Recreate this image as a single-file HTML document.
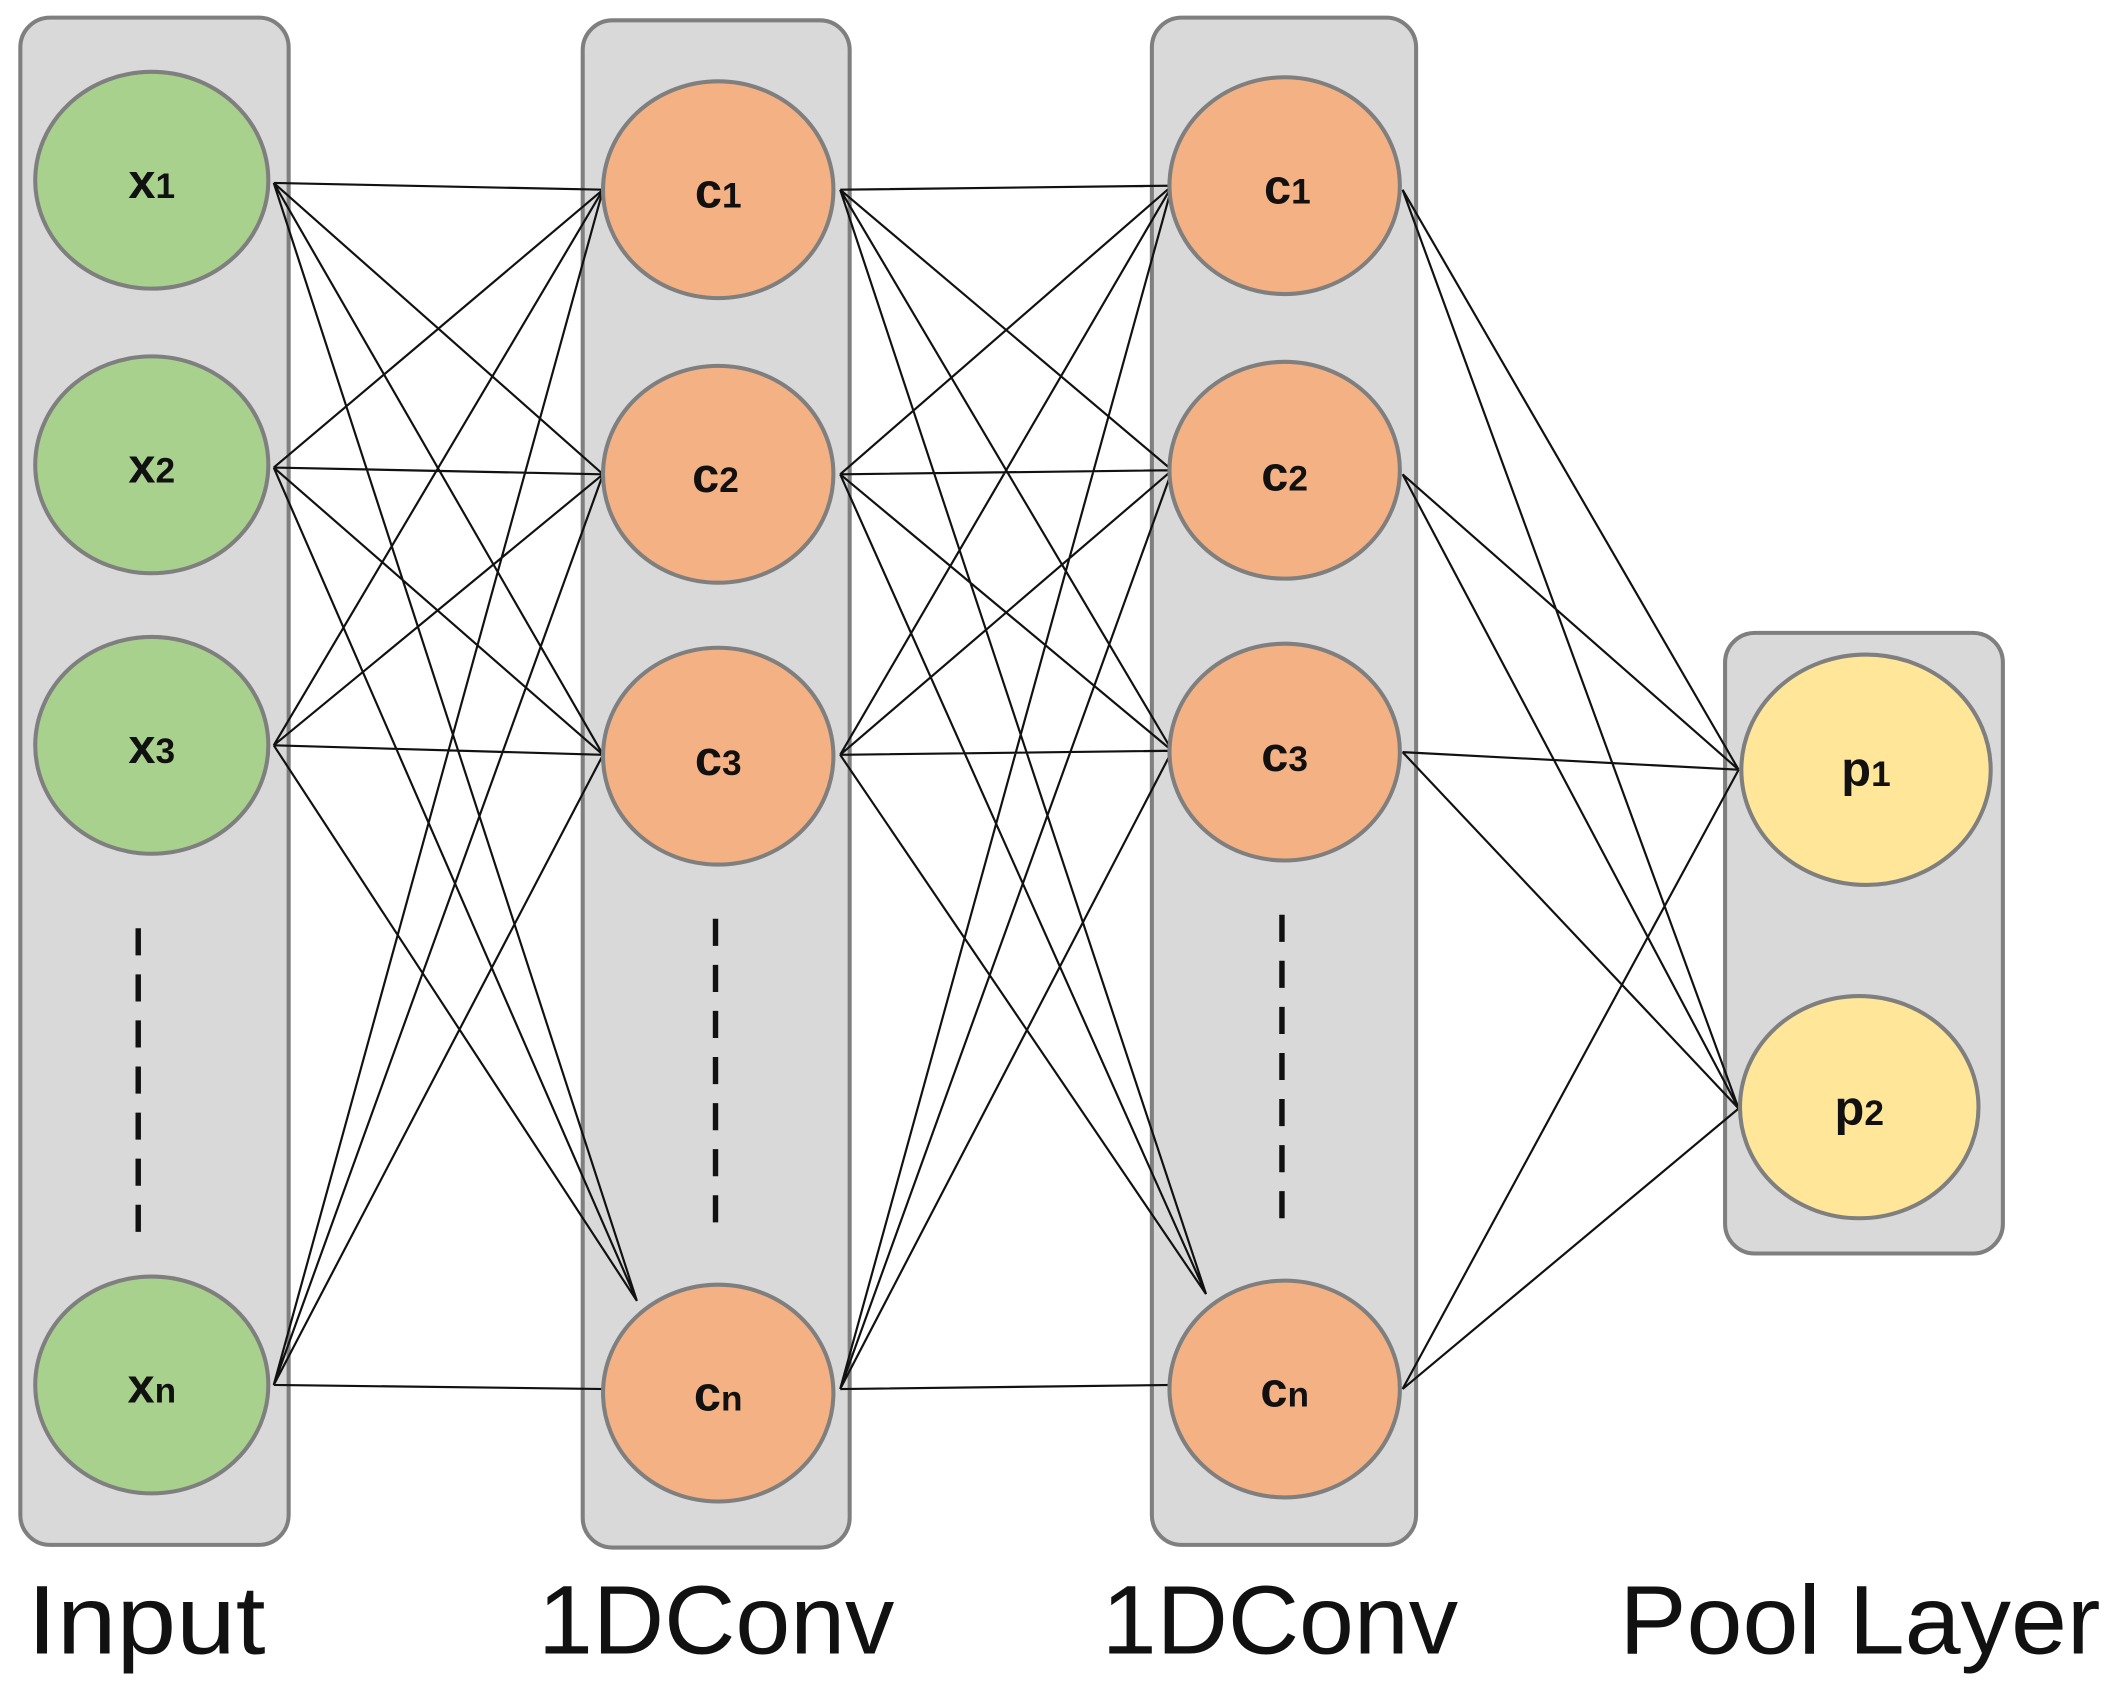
<!DOCTYPE html>
<html><head><style>html,body{margin:0;padding:0;background:#fff}svg{display:block}</style></head>
<body>
<svg width="2114" height="1690" viewBox="0 0 1560 1247.1" preserveAspectRatio="none" xmlns="http://www.w3.org/2000/svg">
<g fill="#d9d9d9" stroke="#7f7f7f" stroke-width="3">
<rect x="15" y="13" width="198" height="1127" rx="22"/>
<rect x="430" y="15" width="197" height="1127" rx="22"/>
<rect x="850" y="13" width="195" height="1127" rx="22"/>
<rect x="1273" y="467" width="205" height="458" rx="22"/>
</g>
<g stroke="#111" stroke-width="1.6" fill="none">
<path d="M202 135L445 140M202 135L445 350M202 135L445 557M202 135L470 960
M202 345L445 140M202 345L445 350M202 345L445 557M202 345L470 960
M202 550L445 140M202 550L445 350M202 550L445 557M202 550L470 960
M202 1022L445 140M202 1022L445 350M202 1022L445 557M202 1022L447 1025"/>
<path d="M620 140L865 137M620 140L865 347M620 140L865 554M620 140L890 955
M620 350L865 137M620 350L865 347M620 350L865 554M620 350L890 955
M620 557L865 137M620 557L865 347M620 557L865 554M620 557L890 955
M620 1025L865 137M620 1025L865 347M620 1025L865 554M620 1025L866 1022"/>
<path d="M1035 140L1283 568M1035 140L1283 818
M1035 350L1283 568M1035 350L1283 818
M1035 555L1283 568M1035 555L1283 818
M1035 1025L1283 568M1035 1025L1283 818"/>
</g>
<g stroke="#7f7f7f" stroke-width="3">
<g fill="#a9d18e">
<ellipse cx="112" cy="133" rx="86" ry="80"/>
<ellipse cx="112" cy="343" rx="86" ry="80"/>
<ellipse cx="112" cy="550" rx="86" ry="80"/>
<ellipse cx="112" cy="1022" rx="86" ry="80"/>
</g>
<g fill="#f4b183">
<ellipse cx="530" cy="140" rx="85" ry="80"/>
<ellipse cx="530" cy="350" rx="85" ry="80"/>
<ellipse cx="530" cy="558" rx="85" ry="80"/>
<ellipse cx="530" cy="1028" rx="85" ry="80"/>
<ellipse cx="948" cy="137" rx="85" ry="80"/>
<ellipse cx="948" cy="347" rx="85" ry="80"/>
<ellipse cx="948" cy="555" rx="85" ry="80"/>
<ellipse cx="948" cy="1025" rx="85" ry="80"/>
</g>
<g fill="#ffe699">
<ellipse cx="1377" cy="568" rx="92" ry="85"/>
<ellipse cx="1372" cy="817" rx="88" ry="82"/>
</g>
</g>
<g stroke="#111" stroke-width="4" stroke-dasharray="20,14">
<line x1="102" y1="685" x2="102" y2="919"/>
<line x1="528" y1="678" x2="528" y2="912"/>
<line x1="946" y1="675" x2="946" y2="909"/>
</g>
<g font-family="Liberation Sans, sans-serif" font-weight="bold" font-size="36" fill="#111" text-anchor="middle">
<text x="112" y="146">x<tspan font-size="26">1</tspan></text>
<text x="112" y="356">x<tspan font-size="26">2</tspan></text>
<text x="112" y="563">x<tspan font-size="26">3</tspan></text>
<text x="112" y="1035">x<tspan font-size="26">n</tspan></text>
<text x="530" y="153">c<tspan font-size="26">1</tspan></text>
<text x="528" y="363">c<tspan font-size="26">2</tspan></text>
<text x="530" y="572">c<tspan font-size="26">3</tspan></text>
<text x="530" y="1041">c<tspan font-size="26">n</tspan></text>
<text x="950" y="150">c<tspan font-size="26">1</tspan></text>
<text x="948" y="362">c<tspan font-size="26">2</tspan></text>
<text x="948" y="569">c<tspan font-size="26">3</tspan></text>
<text x="948" y="1038">c<tspan font-size="26">n</tspan></text>
<text x="1377" y="580">p<tspan font-size="26">1</tspan></text>
<text x="1372" y="830">p<tspan font-size="26">2</tspan></text>
</g>
<g font-family="Liberation Sans, sans-serif" font-size="72" fill="#111">
<text x="20" y="1220" textLength="176" lengthAdjust="spacingAndGlyphs">Input</text>
<text x="397" y="1220" textLength="263" lengthAdjust="spacingAndGlyphs">1DConv</text>
<text x="813" y="1220" textLength="263" lengthAdjust="spacingAndGlyphs">1DConv</text>
<text x="1195" y="1220" textLength="355" lengthAdjust="spacingAndGlyphs">Pool Layer</text>
</g>
</svg>
</body></html>
